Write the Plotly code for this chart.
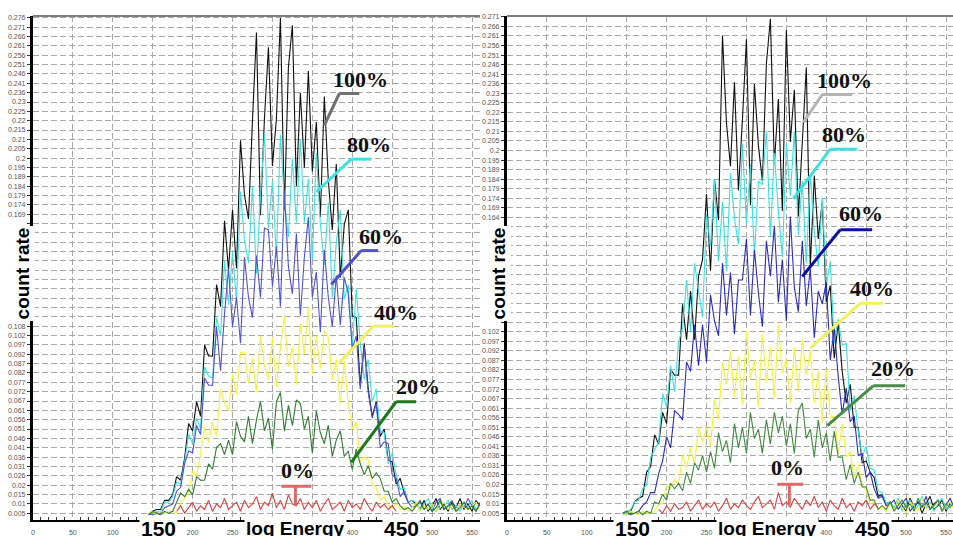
import plotly.graph_objects as go

W, H = 953, 536

# ---------------- data (log Energy channel -> count rate) ----------------
channels = list(range(145, 561, 5))
red_channels_L = list(range(180, 456, 5))
red_channels_R = list(range(190, 466, 5))

black_L = [0.004, 0.006, 0.007, 0.007, 0.012, 0.012, 0.015, 0.025, 0.023, 0.035, 0.054,
           0.050, 0.066, 0.058, 0.097, 0.091, 0.091, 0.130, 0.118, 0.165, 0.138,
           0.171, 0.139, 0.209, 0.179, 0.166, 0.220, 0.268, 0.168, 0.221, 0.260,
           0.195, 0.221, 0.276, 0.171, 0.249, 0.272, 0.184, 0.235, 0.194, 0.247,
           0.192, 0.219, 0.167, 0.233, 0.187, 0.160, 0.196, 0.134, 0.163, 0.171,
           0.113, 0.112, 0.075, 0.098, 0.073, 0.058, 0.066, 0.047, 0.051, 0.034,
           0.033, 0.021, 0.024, 0.016, 0.011, 0.012, 0.010, 0.007, 0.012, 0.006,
           0.009, 0.013, 0.007, 0.010, 0.006, 0.011, 0.008, 0.013, 0.007, 0.010,
           0.006, 0.012, 0.009]
cyan_L = [0.005, 0.004, 0.006, 0.006, 0.011, 0.011, 0.014, 0.022, 0.021, 0.033, 0.048,
          0.043, 0.057, 0.051, 0.085, 0.080, 0.079, 0.112, 0.102, 0.143, 0.119,
          0.148, 0.120, 0.181, 0.154, 0.142, 0.184, 0.136, 0.178, 0.213, 0.161,
          0.187, 0.145, 0.212, 0.176, 0.156, 0.199, 0.164, 0.210, 0.164, 0.188,
          0.144, 0.202, 0.163, 0.141, 0.175, 0.123, 0.153, 0.171, 0.122, 0.130,
          0.095, 0.128, 0.098, 0.078, 0.089, 0.066, 0.073, 0.050, 0.049, 0.032,
          0.038, 0.026, 0.018, 0.019, 0.011, 0.012, 0.011, 0.007, 0.010, 0.013,
          0.008, 0.006, 0.011, 0.008, 0.012, 0.007, 0.009, 0.006, 0.011, 0.008,
          0.012, 0.007, 0.010]
blue_L = [0.005, 0.004, 0.005, 0.005, 0.008, 0.009, 0.010, 0.017, 0.019, 0.032, 0.039,
          0.038, 0.053, 0.048, 0.079, 0.075, 0.075, 0.107, 0.083, 0.114, 0.139,
          0.107, 0.123, 0.098, 0.145, 0.123, 0.112, 0.146, 0.123, 0.161, 0.160,
          0.129, 0.151, 0.118, 0.180, 0.140, 0.125, 0.158, 0.113, 0.145, 0.167,
          0.123, 0.137, 0.104, 0.149, 0.123, 0.107, 0.135, 0.108, 0.134, 0.125,
          0.095, 0.102, 0.073, 0.096, 0.071, 0.057, 0.065, 0.041, 0.044, 0.043,
          0.026, 0.024, 0.014, 0.017, 0.011, 0.008, 0.009, 0.012, 0.007, 0.010,
          0.006, 0.011, 0.013, 0.007, 0.009, 0.012, 0.006, 0.010, 0.008, 0.013,
          0.009, 0.006, 0.011]
yellow_L = [0.005, 0.006, 0.004, 0.006, 0.005, 0.006, 0.006, 0.005, 0.010, 0.013, 0.016,
            0.028, 0.025, 0.038, 0.052, 0.044, 0.055, 0.047, 0.073, 0.065, 0.061,
            0.081, 0.070, 0.093, 0.093, 0.076, 0.090, 0.071, 0.102, 0.086, 0.078,
            0.101, 0.074, 0.096, 0.113, 0.085, 0.096, 0.075, 0.109, 0.092, 0.117,
            0.081, 0.102, 0.084, 0.105, 0.101, 0.078, 0.089, 0.065, 0.088, 0.065,
            0.051, 0.055, 0.033, 0.036, 0.034, 0.021, 0.019, 0.012, 0.014, 0.009,
            0.008, 0.010, 0.007, 0.009, 0.006, 0.008, 0.011, 0.006, 0.009, 0.007,
            0.010, 0.006, 0.008, 0.011, 0.007, 0.009, 0.006, 0.010, 0.008, 0.007,
            0.009, 0.011, 0.006]
green_L = [0.004, 0.006, 0.005, 0.004, 0.006, 0.005, 0.006, 0.011, 0.016, 0.014, 0.018,
           0.015, 0.025, 0.023, 0.023, 0.032, 0.029, 0.041, 0.043, 0.037, 0.045,
           0.037, 0.055, 0.047, 0.044, 0.058, 0.043, 0.056, 0.066, 0.050, 0.057,
           0.040, 0.066, 0.071, 0.050, 0.064, 0.053, 0.067, 0.065, 0.051, 0.058,
           0.038, 0.061, 0.049, 0.043, 0.053, 0.036, 0.045, 0.050, 0.036, 0.039,
           0.029, 0.040, 0.032, 0.026, 0.031, 0.024, 0.027, 0.024, 0.017, 0.017,
           0.011, 0.013, 0.009, 0.007, 0.008, 0.006, 0.009, 0.011, 0.007, 0.010,
           0.006, 0.008, 0.012, 0.007, 0.009, 0.010, 0.006, 0.008, 0.011, 0.007,
           0.009, 0.006, 0.010]
red_L = [0.006, 0.009, 0.005, 0.008, 0.011, 0.006, 0.009, 0.007, 0.012, 0.006,
         0.010, 0.008, 0.013, 0.007, 0.009, 0.011, 0.006, 0.012, 0.008, 0.010,
         0.014, 0.007, 0.011, 0.009, 0.016, 0.008, 0.012, 0.007, 0.015, 0.010,
         0.009, 0.013, 0.007, 0.011, 0.008, 0.012, 0.006, 0.010, 0.013, 0.007,
         0.009, 0.011, 0.006, 0.012, 0.008, 0.010, 0.007, 0.013, 0.009, 0.006,
         0.011, 0.008, 0.010, 0.007, 0.009, 0.006]

black_R = [0.005, 0.006, 0.006, 0.011, 0.013, 0.014, 0.027, 0.030, 0.047, 0.042, 0.059,
           0.053, 0.082, 0.079, 0.079, 0.117, 0.098, 0.124, 0.098, 0.132, 0.141,
           0.176, 0.135, 0.184, 0.162, 0.261, 0.214, 0.191, 0.236, 0.178, 0.216,
           0.259, 0.170, 0.235, 0.202, 0.183, 0.246, 0.270, 0.192, 0.227, 0.167,
           0.264, 0.204, 0.232, 0.164, 0.207, 0.244, 0.137, 0.186, 0.152, 0.172,
           0.118, 0.127, 0.088, 0.107, 0.081, 0.064, 0.074, 0.051, 0.051, 0.032,
           0.033, 0.027, 0.024, 0.014, 0.015, 0.010, 0.011, 0.007, 0.012, 0.009,
           0.006, 0.013, 0.008, 0.011, 0.005, 0.010, 0.014, 0.007, 0.009, 0.012,
           0.006, 0.010, 0.008]
cyan_R = [0.004, 0.005, 0.007, 0.011, 0.012, 0.018, 0.020, 0.035, 0.039, 0.043, 0.069,
          0.062, 0.084, 0.070, 0.097, 0.104, 0.130, 0.102, 0.139, 0.124, 0.110,
          0.165, 0.148, 0.184, 0.140, 0.172, 0.135, 0.187, 0.163, 0.149, 0.203,
          0.160, 0.192, 0.143, 0.183, 0.181, 0.210, 0.153, 0.198, 0.167, 0.142,
          0.203, 0.175, 0.210, 0.154, 0.183, 0.139, 0.187, 0.156, 0.137, 0.174,
          0.127, 0.140, 0.096, 0.109, 0.095, 0.096, 0.060, 0.068, 0.049, 0.035,
          0.041, 0.029, 0.028, 0.017, 0.016, 0.010, 0.011, 0.008, 0.013, 0.006,
          0.010, 0.012, 0.007, 0.009, 0.014, 0.008, 0.011, 0.006, 0.010, 0.013,
          0.007, 0.009, 0.011]
blue_R = [0.005, 0.004, 0.005, 0.005, 0.006, 0.009, 0.011, 0.016, 0.016, 0.026, 0.033,
          0.046, 0.040, 0.060, 0.058, 0.055, 0.086, 0.081, 0.106, 0.084, 0.106,
          0.086, 0.122, 0.108, 0.100, 0.139, 0.111, 0.134, 0.101, 0.130, 0.130,
          0.152, 0.111, 0.146, 0.123, 0.105, 0.151, 0.132, 0.159, 0.118, 0.141,
          0.108, 0.164, 0.126, 0.113, 0.151, 0.116, 0.136, 0.099, 0.124, 0.117,
          0.129, 0.087, 0.104, 0.078, 0.058, 0.072, 0.054, 0.057, 0.036, 0.037,
          0.024, 0.027, 0.018, 0.013, 0.014, 0.009, 0.010, 0.012, 0.007, 0.010,
          0.013, 0.006, 0.009, 0.011, 0.008, 0.014, 0.007, 0.010, 0.012, 0.006,
          0.009, 0.013, 0.008]
yellow_R = [0.005, 0.004, 0.006, 0.005, 0.004, 0.006, 0.005, 0.005, 0.006, 0.010, 0.010,
            0.020, 0.018, 0.023, 0.020, 0.036, 0.029, 0.040, 0.031, 0.051, 0.043,
            0.051, 0.041, 0.066, 0.055, 0.086, 0.074, 0.092, 0.067, 0.089, 0.063,
            0.103, 0.077, 0.087, 0.062, 0.101, 0.075, 0.094, 0.067, 0.106, 0.080,
            0.088, 0.064, 0.094, 0.070, 0.098, 0.079, 0.092, 0.064, 0.081, 0.054,
            0.082, 0.056, 0.057, 0.037, 0.053, 0.035, 0.038, 0.024, 0.031, 0.020,
            0.017, 0.010, 0.011, 0.007, 0.008, 0.006, 0.010, 0.007, 0.012, 0.008,
            0.005, 0.011, 0.009, 0.006, 0.013, 0.007, 0.010, 0.008, 0.012, 0.006,
            0.009, 0.011, 0.007]
green_R = [0.005, 0.006, 0.004, 0.005, 0.006, 0.004, 0.006, 0.005, 0.011, 0.010, 0.015,
           0.012, 0.021, 0.018, 0.021, 0.017, 0.027, 0.021, 0.032, 0.028, 0.036,
           0.027, 0.038, 0.029, 0.048, 0.038, 0.044, 0.032, 0.053, 0.040, 0.051,
           0.037, 0.059, 0.045, 0.050, 0.037, 0.055, 0.042, 0.059, 0.048, 0.057,
           0.041, 0.053, 0.037, 0.060, 0.064, 0.045, 0.050, 0.035, 0.055, 0.040,
           0.048, 0.033, 0.049, 0.035, 0.035, 0.023, 0.031, 0.021, 0.027, 0.019,
           0.019, 0.012, 0.012, 0.007, 0.009, 0.007, 0.011, 0.006, 0.009, 0.012,
           0.008, 0.010, 0.006, 0.013, 0.008, 0.011, 0.007, 0.009, 0.012, 0.006,
           0.010, 0.008, 0.011]
red_R = [0.007, 0.005, 0.009, 0.006, 0.010, 0.007, 0.008, 0.011, 0.006, 0.009,
         0.012, 0.007, 0.010, 0.008, 0.011, 0.006, 0.009, 0.013, 0.007, 0.010,
         0.008, 0.012, 0.009, 0.007, 0.011, 0.014, 0.008, 0.010, 0.012, 0.007,
         0.016, 0.009, 0.011, 0.008, 0.013, 0.010, 0.007, 0.012, 0.009, 0.014,
         0.008, 0.011, 0.006, 0.012, 0.009, 0.007, 0.013, 0.008, 0.010, 0.006,
         0.011, 0.009, 0.012, 0.007, 0.010, 0.008]

# y tick labels (top to bottom as printed)
ylab_L_upper = ["0.276", "0.271", "0.266", "0.261", "0.256", "0.251", "0.246", "0.241",
                "0.236", "0.23", "0.225", "0.22", "0.215", "0.21", "0.205", "0.2",
                "0.195", "0.189", "0.184", "0.179", "0.174", "0.169"]
ylab_L_lower = ["0.108", "0.102", "0.097", "0.092", "0.087", "0.082", "0.077", "0.072",
                "0.067", "0.061", "0.056", "0.051", "0.046", "0.041", "0.036", "0.031",
                "0.026", "0.02", "0.015", "0.01", "0.005"]
ylab_R_upper = ["0.271", "0.266", "0.261", "0.256", "0.251", "0.246", "0.241", "0.236",
                "0.23", "0.225", "0.22", "0.215", "0.21", "0.205", "0.2", "0.195",
                "0.189", "0.184", "0.179", "0.174", "0.169", "0.164"]
ylab_R_lower = ["0.102", "0.097", "0.092", "0.087", "0.082", "0.077", "0.072", "0.067",
                "0.061", "0.056", "0.051", "0.046", "0.041", "0.036", "0.031", "0.026",
                "0.02", "0.015", "0.01", "0.005"]
# x tick values; the labels at 150/300/350/450 are hidden under the big captions
xticks = [0, 50, 100, 150, 200, 250, 300, 350, 400, 450, 500, 550]
xlab = ["0", "50", "100", "", "200", "250", "", "", "400", "", "500", "550"]
pct_labels = ["100%", "80%", "60%", "40%", "20%", "0%"]

# ---------------- helpers ----------------
def px(x):
    return x / W


def py(y):
    return 1 - y / H


def y_ticks(lower, upper, gap, top_val):
    n = len(lower) + gap + len(upper)
    step = (top_val - 0.005) / (n - 1)
    vals = [0.005 + k * step for k in range(n)]
    text = list(reversed(lower)) + [""] * gap + list(reversed(upper))
    return vals, text


fig = go.Figure()

cols_L = ["#111111", "#3fe0e0", "#5252d4", "#f2f23a", "#2f7d2f"]
cols_R = ["#111111", "#35e2e2", "#2a2ac4", "#f2f23a", "#3f8a3f"]
ser_L = [black_L, cyan_L, blue_L, yellow_L, green_L]
ser_R = [black_R, cyan_R, blue_R, yellow_R, green_R]

for vals, c in zip(ser_L, cols_L):
    fig.add_trace(go.Scatter(x=channels[:len(vals)], y=vals, mode="lines",
                             line=dict(color=c, width=1.1), xaxis="x", yaxis="y",
                             hoverinfo="skip"))
fig.add_trace(go.Scatter(x=red_channels_L, y=red_L, mode="lines",
                         line=dict(color="#e03c3c", width=1.1), xaxis="x", yaxis="y"))
for vals, c in zip(ser_R, cols_R):
    fig.add_trace(go.Scatter(x=channels[:len(vals)], y=vals, mode="lines",
                             line=dict(color=c, width=1.1), xaxis="x2", yaxis="y2",
                             hoverinfo="skip"))
fig.add_trace(go.Scatter(x=red_channels_R, y=red_R, mode="lines",
                         line=dict(color="#e03c3c", width=1.1), xaxis="x2", yaxis="y2"))

tv_L, tt_L = y_ticks(ylab_L_lower, ylab_L_upper, 11, 0.276)
tv_R, tt_R = y_ticks(ylab_R_lower, ylab_R_upper, 11, 0.271)

ydom = [py(520), py(13)]
grid = dict(showgrid=True, gridcolor="#a8a8a8", gridwidth=1, griddash="6px,3px")
tickfont = dict(family="Liberation Sans, Arial", size=7, color="#555555")


def xaxis(dom, rng, anchor):
    return dict(domain=dom, range=rng, anchor=anchor, tickmode="array",
                tickvals=xticks, ticktext=xlab, ticks="",
                tickfont=tickfont, ticklabelstandoff=5, showline=True,
                linecolor="#000000", linewidth=2, zeroline=False,
                minor=dict(tickvals=[v for v in range(0, 560, 10) if v % 50],
                           ticks="inside", ticklen=3, tickcolor="#333333",
                           showgrid=False),
                **grid)


def yaxis(rng, anchor, tv, tt):
    return dict(domain=ydom, range=rng, anchor=anchor, tickmode="array",
                tickvals=tv, ticktext=tt, ticks="outside", ticklen=3,
                tickcolor="#333333", tickfont=tickfont, showline=True,
                linecolor="#000000", linewidth=3, zeroline=False, **grid)


fig.update_layout(
    width=W, height=H, margin=dict(l=0, r=0, t=0, b=0),
    paper_bgcolor="white", plot_bgcolor="white", showlegend=False,
    xaxis=xaxis([px(31), px(479)], [0, 560], "y"),
    yaxis=yaxis([0.00119, 0.27709], "x", tv_L, tt_L),
    xaxis2=xaxis([px(506), 1.0], [0, 558.75], "y2"),
    yaxis2=yaxis([0.00127, 0.27153], "x2", tv_R, tt_R),
)

# top frame lines
for xr, yr in (("x domain", "y domain"), ("x2 domain", "y2 domain")):
    fig.add_shape(type="line", xref=xr, yref=yr, x0=0, x1=1, y0=1, y1=1,
                  line=dict(color="#808080", width=2))

# percentage labels with leader lines (pixel positions)
serif = dict(family="Liberation Serif, Times New Roman", size=22, color="#111111",
             weight="bold")
labels_L = [(359, 77), (368, 142), (380, 235), (395, 311), (417, 386), (296, 470)]
labels_R = [(844, 78), (844, 132), (861, 212), (872, 287), (893, 368), (787, 467)]
leaders_L = [
    ("#707070", [(358, 91), (338, 91), (323, 123)]),
    ("#40e0e0", [(370, 157), (350, 157), (315, 190)]),
    ("#5050c8", [(377, 249), (360, 249), (330, 283)]),
    ("#f0f060", [(393, 325), (372, 325), (338, 362)]),
    ("#1a7a1a", [(415, 401), (395, 401), (350, 462)]),
]
leaders_R = [
    ("#b4b4b4", [(852, 92), (822, 92), (803, 120)]),
    ("#40e0e0", [(857, 147), (830, 147), (793, 197)]),
    ("#1010a0", [(872, 228), (840, 228), (802, 275)]),
    ("#f0f060", [(883, 302), (860, 302), (810, 347)]),
    ("#4a8a4a", [(905, 385), (873, 385), (827, 425)]),
]
for lab_pos in (labels_L, labels_R):
    for text, (x, y) in zip(pct_labels, lab_pos):
        fig.add_annotation(text=text, x=px(x), y=py(y), xref="paper", yref="paper",
                           showarrow=False, font=serif, xanchor="center",
                           yanchor="middle")
for color, pts in leaders_L + leaders_R:
    for (xa, ya), (xb, yb) in zip(pts[:-1], pts[1:]):
        fig.add_shape(type="line", xref="paper", yref="paper", x0=px(xa), y0=py(ya),
                      x1=px(xb), y1=py(yb), line=dict(color=color, width=3))
# red T markers for 0%
for xh0, xh1, xv, yh, yv in ((280, 310, 294, 486, 505), (777, 803, 789, 484, 505)):
    fig.add_shape(type="line", xref="paper", yref="paper", x0=px(xh0), x1=px(xh1),
                  y0=py(yh), y1=py(yh), line=dict(color="#e06868", width=3))
    fig.add_shape(type="line", xref="paper", yref="paper", x0=px(xv), x1=px(xv),
                  y0=py(yh), y1=py(yv), line=dict(color="#e06868", width=3))

# axis titles with white boxes
sans_b = dict(family="Liberation Sans, Arial", color="#000000", weight="bold")
for x in (21, 498):
    fig.add_annotation(text="count rate", x=px(x), y=py(272), xref="paper",
                       yref="paper", showarrow=False, textangle=-90,
                       font=dict(size=19, **sans_b), bgcolor="white", borderpad=1,
                       xanchor="center", yanchor="middle")
for x, text, size in ((157, "150", 21), (294, "log Energy", 19), (400, "450", 21),
                      (632, "150", 21), (767, "log Energy", 19), (872, "450", 21)):
    fig.add_annotation(text=text, x=px(x), y=py(528), xref="paper", yref="paper",
                       showarrow=False, font=dict(size=size, **sans_b),
                       bgcolor="white", borderpad=1, xanchor="center",
                       yanchor="middle")

fig.write_html("out.html")
